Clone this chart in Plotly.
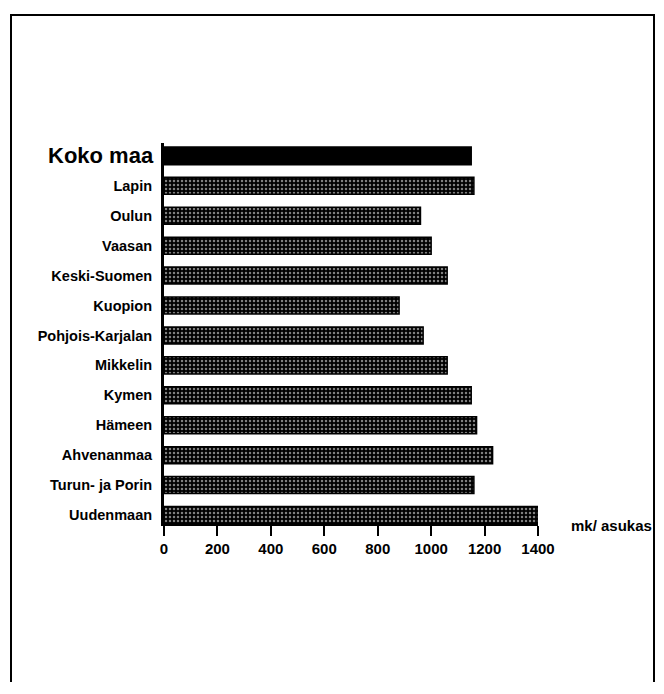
import plotly.graph_objects as go

# ---- data ----
regions = ["Uudenmaan", "Turun- ja Porin", "Ahvenanmaa", "Hämeen", "Kymen",
           "Mikkelin", "Pohjois-Karjalan", "Kuopion", "Keski-Suomen", "Vaasan",
           "Oulun", "Lapin"]
values = [1400, 1160, 1230, 1170, 1150, 1060, 970, 880, 1060, 1000, 960, 1160]
total_label = "Koko maa"
total_value = 1150
x_ticks = [0, 200, 400, 600, 800, 1000, 1200, 1400]
unit_label = "mk/ asukas"

# ---- layout geometry (page pixels; page body has an 8px margin) ----
OFF = 8
W, H = 664 - OFF - 2, 694 - 2 * OFF - 4
L, R, T, B = 164 - OFF, 538 - OFF, 143 - OFF, 524 - OFF   # plot area edges


def px_x(p):
    return (p - OFF - L) / (R - L)


def px_y(p):
    return (B - (p - OFF)) / (B - T)


cats = regions + [total_label]

fig = go.Figure()
fig.add_trace(go.Bar(
    y=regions, x=values, orientation="h", width=0.57,
    marker=dict(color="black", line=dict(color="black", width=1.5),
                pattern=dict(shape=".", fgcolor="white", bgcolor="black",
                             size=4, solidity=0.3, fillmode="overlay")),
    showlegend=False, hoverinfo="x+y",
))
fig.add_trace(go.Bar(
    y=[total_label], x=[total_value], orientation="h", width=0.6,
    marker=dict(color="black", line=dict(color="black", width=1.5)),
    showlegend=False, hoverinfo="x+y",
))

fig.update_layout(
    width=W, height=H,
    margin=dict(l=L, r=W - R, t=T, b=H - B, pad=0),
    plot_bgcolor="white", paper_bgcolor="white",
    barmode="overlay",
    font=dict(family="Liberation Sans, Arial, sans-serif", color="black"),
    xaxis=dict(range=[0, 1400], tickvals=x_ticks, ticks="outside", ticklen=10,
               tickwidth=2, tickcolor="black", showline=True, linecolor="black",
               linewidth=2, showgrid=False, zeroline=False,
               tickfont=dict(size=15, weight="bold")),
    yaxis=dict(categoryorder="array", categoryarray=cats,
               tickvals=cats, ticktext=regions + [""],
               range=[-0.3, 12.43], showline=True, linecolor="black",
               linewidth=3, showgrid=False, zeroline=False, ticks="",
               ticklabelstandoff=6,
               tickfont=dict(size=14.5, weight="bold")),
    annotations=[
        dict(text=total_label, x=px_x(156), xref="paper", xanchor="right",
             y=total_label, yref="y", yanchor="middle", showarrow=False,
             font=dict(size=22, weight="bold")),
        dict(text=unit_label, x=px_x(569), xref="paper", xanchor="left",
             y=px_y(525), yref="paper", yanchor="middle", showarrow=False,
             font=dict(size=15, weight="bold")),
    ],
    shapes=[
        dict(type="rect", xref="paper", yref="paper",
             x0=px_x(11), x1=px_x(654), y0=px_y(720), y1=px_y(15),
             line=dict(color="black", width=2), layer="below"),
    ],
)

fig.write_html("out.html")
